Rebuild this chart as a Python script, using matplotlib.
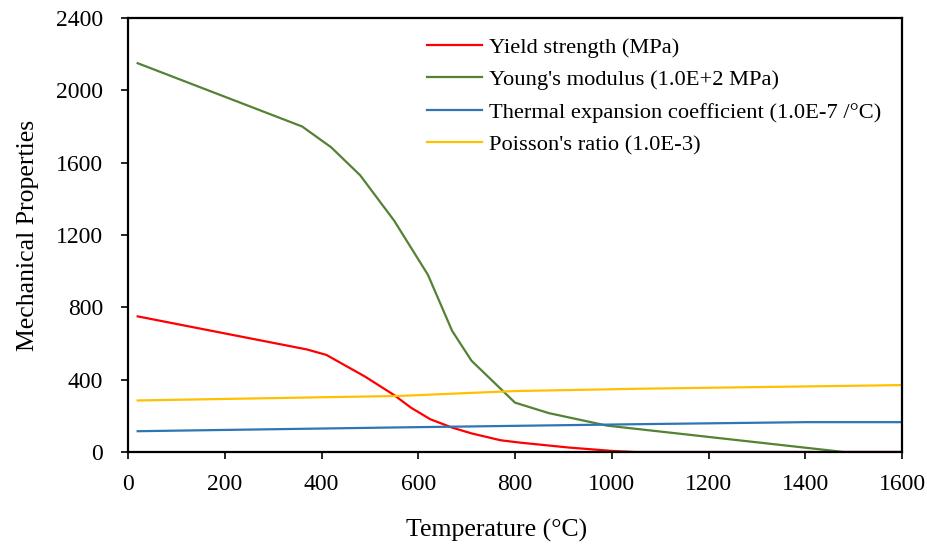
import matplotlib
matplotlib.use("Agg")
import matplotlib.pyplot as plt

plt.rcParams['font.family'] = ['Liberation Serif', 'DejaVu Serif']

# Data (temperature in °C)
yield_T = [20, 370, 410, 490, 550, 585, 625, 670, 710, 770, 810, 910, 1000, 1050, 1600]
yield_v = [750, 567, 537, 417, 315, 245, 181, 135, 103, 65, 52, 25, 6, 0, 0]

young_T = [20, 360, 420, 480, 550, 620, 670, 710, 800, 870, 990, 1480, 1600]
young_v = [2150, 1800, 1685, 1530, 1280, 980, 670, 505, 273, 215, 146, 0, 0]

therm_T = [20, 560, 1060, 1400, 1600]
therm_v = [115, 136, 154, 165, 165]

pois_T = [20, 560, 800, 1060, 1600]
pois_v = [285, 310, 337, 350, 370]

labels = ["Yield strength (MPa)", "Young's modulus (1.0E+2 MPa)",
          "Thermal expansion coefficient (1.0E-7 /°C)", "Poisson's ratio (1.0E-3)"]
colors = ["#FF0000", "#548235", "#2E75B6", "#FFC000"]

xticks = [0, 200, 400, 600, 800, 1000, 1200, 1400, 1600]
yticks = [0, 400, 800, 1200, 1600, 2000, 2400]

fig = plt.figure(figsize=(9.28, 5.45), dpi=100)
ax = fig.add_axes([128/928, 1-452/545, (902-128)/928, (452-18)/545])

series = [(yield_T, yield_v), (young_T, young_v), (therm_T, therm_v), (pois_T, pois_v)]
for (t, v), lab, c in zip(series, labels, colors):
    ax.plot(t, v, color=c, lw=1.6, label=lab)

ax.set_xlim(0, 1600)
ax.set_ylim(0, 2400)
ax.set_xticks(xticks)
ax.set_yticks(yticks)
ax.tick_params(axis='both', direction='out', length=5, width=1.2, labelsize=17, colors='black')
ax.tick_params(axis='y', pad=13)
ax.tick_params(axis='x', pad=11)
for s in ax.spines.values():
    s.set_linewidth(1.6)
    s.set_color('black')

ax.set_xlabel("Temperature (°C)", fontsize=18.5)
ax.xaxis.set_label_coords(0.476, -0.155)
ax.set_ylabel("Mechanical Properties", fontsize=18.5, labelpad=12)

leg = fig.legend(loc='upper left', bbox_to_anchor=(427/928, 1-37/545), frameon=False,
                 fontsize=16.2, handlelength=2.45, handletextpad=0.3, labelspacing=0.52,
                 borderpad=0, borderaxespad=0)

fig.savefig("out.png", dpi=100)
